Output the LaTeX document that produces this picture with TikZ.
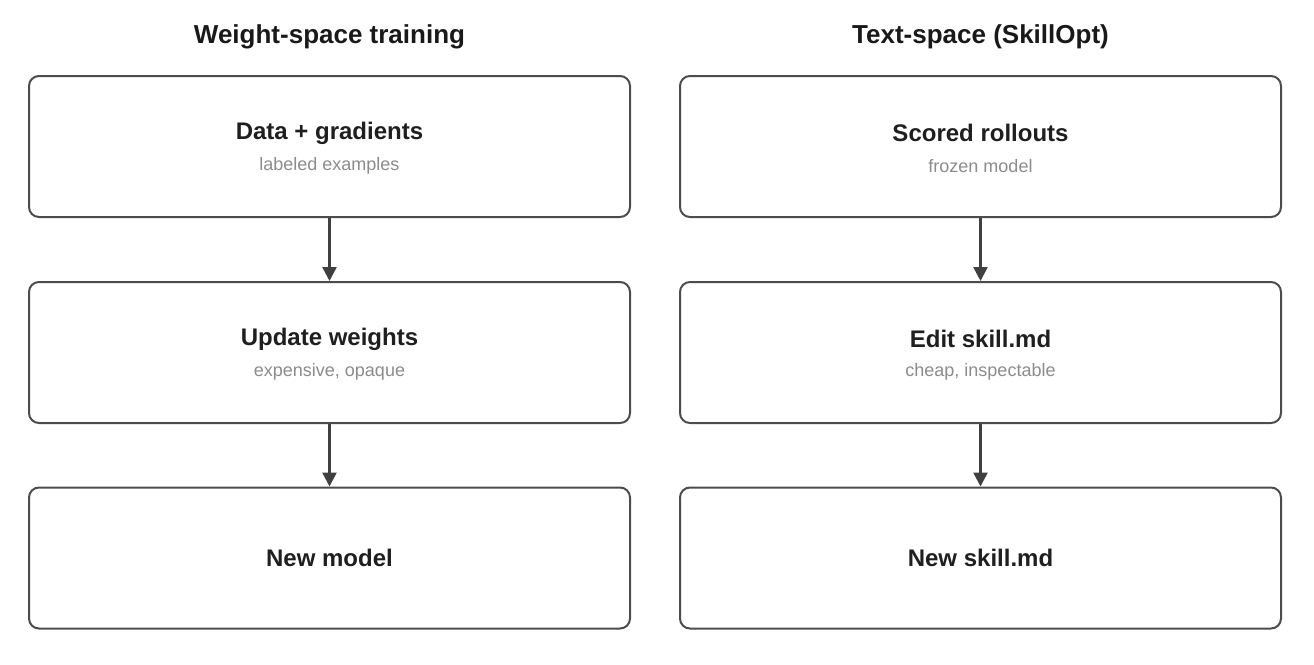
\documentclass[tikz,border=0pt]{standalone}
\usepackage{fontspec}
\setmainfont{Liberation Sans}
\usetikzlibrary{arrows.meta}
\begin{document}
\begin{tikzpicture}[x=1pt,y=-1pt,
  box/.style={draw=black!70,line width=2pt,rounded corners=10pt,minimum width=601pt,minimum height=141pt,fill=white},
  ttl/.style={font=\fontsize{24}{28}\selectfont\bfseries,text=black!88},
  sub/.style={font=\fontsize{18}{22}\selectfont,text=black!45},
  hd/.style={font=\fontsize{26}{30}\selectfont\bfseries,text=black!90},
  arr/.style={draw=black!75,line width=2.5pt,-{Triangle[length=14pt,width=14pt]}}]
\useasboundingbox (0,0) rectangle (1314,664);
\node[hd] (h1) at (329.5,37) {Weight-space training};
\node[hd] (h2) at (980.5,37) {Text-space (SkillOpt)};
\node[box] (a1) at (329.5,146.5) {};
\node[box] (a2) at (329.5,352.5) {};
\node[box] (a3) at (329.5,558) {};
\node[box] (b1) at (980.5,146.5) {};
\node[box] (b2) at (980.5,352.5) {};
\node[box] (b3) at (980.5,558) {};
\node[ttl] (t1) at (329.5,133) {Data + gradients};
\node[sub] (s1) at (329.5,166) {labeled examples};
\node[ttl] (t2) at (329.5,339) {Update weights};
\node[sub] (s2) at (329.5,372) {expensive, opaque};
\node[ttl] (t3) at (329.5,558) {New model};
\node[ttl] (u1) at (980.5,133) {Scored rollouts};
\node[sub] (v1) at (980.5,166) {frozen model};
\node[ttl] (u2) at (980.5,339) {Edit skill.md};
\node[sub] (v2) at (980.5,372) {cheap, inspectable};
\node[ttl] (u3) at (980.5,558) {New skill.md};
\draw[arr] (a1.south) -- (a2.north);
\draw[arr] (a2.south) -- (a3.north);
\draw[arr] (b1.south) -- (b2.north);
\draw[arr] (b2.south) -- (b3.north);
\end{tikzpicture}
\end{document}
